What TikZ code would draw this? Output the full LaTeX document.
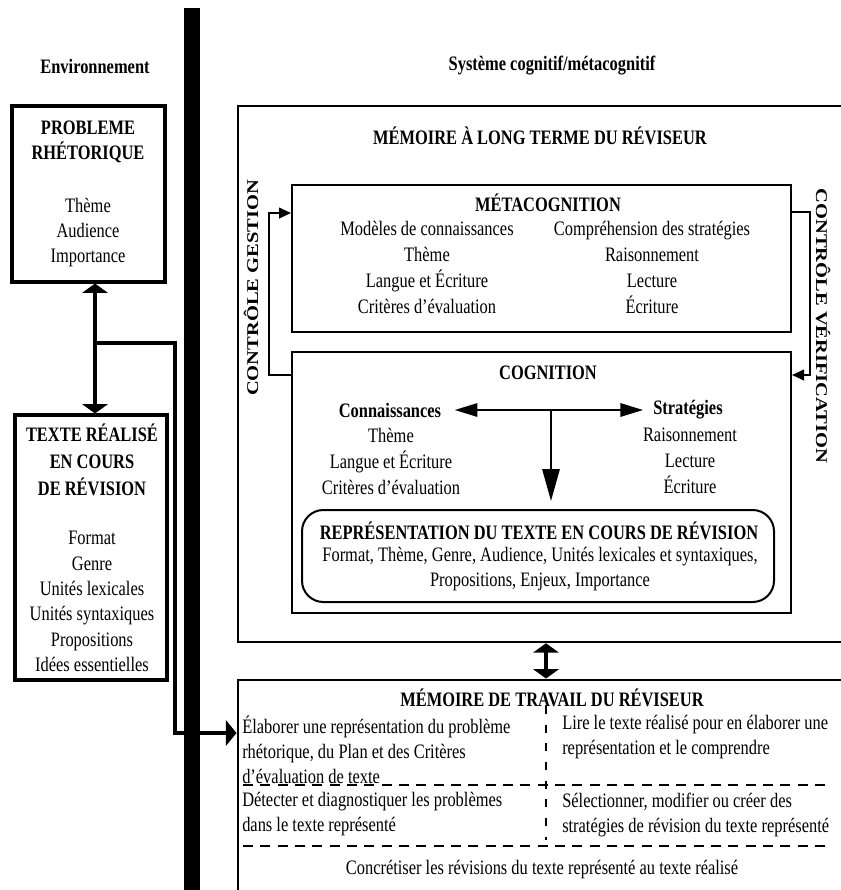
\documentclass[tikz,border=0pt]{standalone}
\usepackage{fontspec}
\setmainfont{Liberation Serif}[FakeStretch=0.8]
\newfontfamily\rotfont{Liberation Serif}[FakeStretch=1.25]
\usetikzlibrary{arrows.meta}
\begin{document}
\begin{tikzpicture}[x=0.75pt,y=-0.75pt,
  txt/.style={inner sep=0pt, align=center, font=\fontsize{15.4}{18.75}\selectfont},
  txtb/.style={inner sep=0pt, align=center, font=\fontsize{15.4}{18.75}\selectfont\bfseries},
  txtm/.style={inner sep=0pt, align=center, font=\fontsize{15.4}{19.5}\selectfont},
  txtl/.style={inner sep=0pt, align=left, anchor=west, font=\fontsize{15.4}{18.75}\selectfont},
  rottxt/.style={inner sep=0pt, font=\rotfont\fontsize{12.3}{14}\selectfont\bfseries},
  envbox/.style={draw, line width=2.3pt, inner sep=0pt},
  bigbox/.style={draw, line width=1.9pt, inner sep=0pt},
  cogbox/.style={draw, line width=1.5pt, inner sep=0pt},
  thickdbl/.style={line width=3.2pt, {Triangle[width=19pt,length=7pt]}-{Triangle[width=19pt,length=7pt]}},
  thickarr/.style={line width=3.2pt, -{Triangle[width=19pt,length=8pt]}},
  ctlarr/.style={line width=1.5pt, -{Triangle[width=8pt,length=9pt]}},
  harr/.style={line width=1.5pt, -{Triangle[width=10pt,length=17pt]}},
  varr/.style={line width=1.5pt, -{Triangle[width=13pt,length=24pt]}},
  sep/.style={line width=1.5pt, dash pattern=on 7.5pt off 5.5pt},
  vsep/.style={line width=1.5pt, dash pattern=on 6pt off 8pt}]
\useasboundingbox (0,0) rectangle (841,890);
\fill[white] (0,0) rectangle (841,890);

% headings
\node[txtb] (henv) at (95,66) {Environnement};
\node[txtb] (hsys) at (552,66) {Système cognitif/métacognitif};

% thick separator bar
\fill (184,8) rectangle (200,895);

% environment boxes
\node[envbox, minimum width=114.75pt, minimum height=132pt] (B1) at (88.5,194) {};
\node[txtb] (B1t) at (88,142) {PROBLEME\\RHÉTORIQUE};
\node[txt] (B1l) at (88,233) {Thème\\Audience\\Importance};

\node[envbox, minimum width=114pt, minimum height=198.75pt] (B2) at (91,547.5) {};
\node[txtb, font=\fontsize{15.4}{20.25}\selectfont\bfseries] (B2t) at (92,460) {TEXTE RÉALISÉ\\EN COURS\\DE RÉVISION};
\node[txt, font=\fontsize{15.4}{19.05}\selectfont] (B2l) at (92,601.5) {Format\\Genre\\Unités lexicales\\Unités syntaxiques\\Propositions\\Idées essentielles};

% long term memory
\node[bigbox, minimum width=466.5pt, minimum height=402pt] (LTM) at (549,374) {};
\node[txtb] (LTMt) at (540,136) {MÉMOIRE À LONG TERME DU RÉVISEUR};

\node[cogbox, minimum width=374.25pt, minimum height=110.25pt] (Meta) at (541.5,258.5) {};
\node[txtb] (Metat) at (548,203) {MÉTACOGNITION};
\node[txtm] (MetaL) at (427,267) {Modèles de connaissances\\Thème\\Langue et Écriture\\Critères d'évaluation};
\node[txtm] (MetaR) at (652,267) {Compréhension des stratégies\\Raisonnement\\Lecture\\Écriture};

\node[cogbox, minimum width=374.25pt, minimum height=195.75pt] (Cog) at (541.5,482.5) {};
\node[txtb] (Cogt) at (548,373) {COGNITION};
\node[txtb] (Conn) at (390,410) {Connaissances};
\node[txtb] (Strat) at (688,410) {Stratégies};
\node[txt, font=\fontsize{15.4}{19.5}\selectfont] (ConnL) at (391,461) {Thème\\Langue et Écriture\\Critères d'évaluation};
\node[txt, font=\fontsize{15.4}{19.5}\selectfont] (StratL) at (690,461) {Raisonnement\\Lecture\\Écriture};

\node[cogbox, rounded corners=16pt, minimum width=354pt, minimum height=69pt] (Repr) at (538,556) {};
\node[txtb] (Reprt) at (539,531) {REPRÉSENTATION DU TEXTE EN COURS DE RÉVISION};
\node[txt] (ReprL) at (540,569.5) {Format, Thème, Genre, Audience, Unités lexicales et syntaxiques,\\Propositions, Enjeux, Importance};

\coordinate (T) at (551,410);
\draw[harr, shorten >=10pt] (T) -- (Conn.east);
\draw[harr, shorten >=7.5pt] (T) -- (Strat.west);
\draw[varr, shorten >=6pt] (T) -- (T |- Repr.north);

% control loops
\node[rottxt, rotate=90] (CG) at (251,288) {CONTRÔLE GESTION};
\node[rottxt, rotate=-90] (CV) at (823,326) {CONTRÔLE VÉRIFICATION};
\coordinate (L1) at (269,375);
\coordinate (L2) at (269,213);
\draw[ctlarr] (Cog.west |- L1) -- (L1) -- (L2) -- (Meta.west |- L2);
\coordinate (R1) at (810,212);
\coordinate (R2) at (810,375);
\draw[ctlarr] (Meta.east |- R1) -- (R1) -- (R2) -- (Cog.east |- R2);

% working memory
\node[bigbox, line width=2.2pt, minimum width=466.5pt, minimum height=165pt] (WM) at (549,790) {};
\node[txtb] (WMt) at (552,698) {MÉMOIRE DE TRAVAIL DU RÉVISEUR};
\node[txtl] (WL1) at (242,749.5) {Élaborer une représentation du problème\\rhétorique, du Plan et des Critères\\d'évaluation de texte};
\node[txtl] (WR1) at (562,737.5) {Lire le texte réalisé pour en élaborer une\\représentation et le comprendre};
\node[txtl] (WL2) at (242,814.5) {Détecter et diagnostiquer les problèmes\\dans le texte représenté};
\node[txtl] (WR2) at (562,814.5) {Sélectionner, modifier ou créer des\\stratégies de révision du texte représenté};
\node[txt] (WC) at (542,870) {Concrétiser les révisions du texte représenté au texte réalisé};
\draw[sep] (243,785) -- (832,785);
\draw[sep] (243,846) -- (832,846);
\draw[vsep] (546,706) -- (546,840);

% connectors between memories and environment
\coordinate (V) at (546,0);
\draw[thickdbl] (LTM.south -| V) -- (WM.north -| V);

\coordinate (J) at (95,343);
\coordinate (K) at (175,733);
\draw[thickdbl] (J |- B1.south) -- (J |- B2.north);
\draw[thickarr] (J) -| (K) -- (WM.west |- K);
\end{tikzpicture}
\end{document}
